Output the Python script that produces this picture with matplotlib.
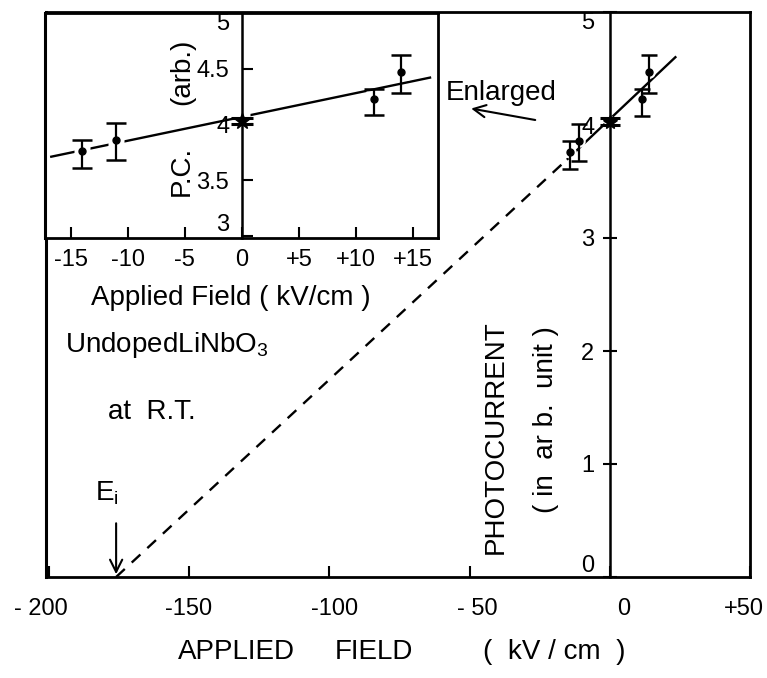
import matplotlib
matplotlib.use('Agg')
import matplotlib.pyplot as plt
from matplotlib.transforms import ScaledTranslation

plt.rcParams['font.family'] = ['Liberation Sans', 'DejaVu Sans']
plt.rcParams['axes.linewidth'] = 2.0

# ---- data ----
field = [-14.0, -11.0, 0.0, 11.6, 14.0]          # kV/cm
photocurrent = [3.76, 3.86, 4.03, 4.23, 4.47]    # arb. unit
err_low = [0.15, 0.18, 0.03, 0.15, 0.19]
err_high = [0.10, 0.15, 0.03, 0.09, 0.15]

E_i = -176.0
main_dash_x = [-176.0, -15.0]
main_dash_y = [0.0, 3.70]
main_solid_x = [-15.0, 23.4]
main_solid_y = [3.70, 4.60]

inset_fit_x = [-16.7, 16.5]
inset_fit_y = [3.71, 4.42]

main_xticks = [-200, -150, -100, -50, 0, 50]
main_xticklabels = ['- 200', '-150', '-100', '- 50', '0', '+50']
main_yticks = [0, 1, 2, 3, 4, 5]
main_yticklabels = ['0', '1', '2', '3', '4', '5']

inset_xticks = [-15, -10, -5, 0, 5, 10, 15]
inset_xticklabels = ['-15', '-10', '-5', '0', '+5', '+10', '+15']
inset_yticks = [3, 3.5, 4, 4.5, 5]
inset_yticklabels = ['3', '3.5', '4', '4.5', '5']

W, H = 767, 678
fig = plt.figure(figsize=(W / 100, H / 100), dpi=100)
FT = 17   # tick labels
FS = 20   # other texts

# ---- main axes ----
ax = fig.add_axes([46 / W, 101 / H, 704 / W, 565 / H])
ax.set_xlim(-201, 50)
ax.set_ylim(0, 5)
ax.spines['left'].set_position(('data', 0))
ax.spines['left'].set_linewidth(1.8)
ax.plot([0, 0], [0, 1], transform=ax.transAxes, color='k', lw=2.2, clip_on=False)

ax.set_xticks(main_xticks)
ax.set_xticklabels(main_xticklabels, fontsize=FT)
ax.tick_params(axis='x', direction='in', length=8, width=1.5, pad=15)
ax.set_yticks(main_yticks)
ax.set_yticklabels(main_yticklabels, fontsize=FT)
ax.tick_params(axis='y', direction='inout', length=10, width=1.5, pad=6)
ylabs = ax.get_yticklabels()
ylabs[0].set_va('bottom')
ylabs[-1].set_va('top')

ax.plot(main_dash_x, main_dash_y, color='k', lw=1.7, ls=(0, (5, 4)))
ax.plot(main_solid_x, main_solid_y, color='k', lw=1.7)
ax.plot(field, photocurrent, ls='none', marker='o', ms=9, mfc='white', mec='none', zorder=2.2)
ax.errorbar(field[:2] + field[3:], photocurrent[:2] + photocurrent[3:],
            yerr=[err_low[:2] + err_low[3:], err_high[:2] + err_high[3:]],
            fmt='o', ms=5, color='k', capsize=6, elinewidth=1.6, capthick=1.8, zorder=3)
ax.errorbar([field[2]], [photocurrent[2]], yerr=[[err_low[2]], [err_high[2]]],
            fmt='*', ms=10, color='k', capsize=7, elinewidth=2.2, capthick=2.2, zorder=3)

ax.annotate('', xy=(E_i, 0.0), xytext=(E_i, 0.5),
            arrowprops=dict(arrowstyle='->', color='k', lw=1.5, mutation_scale=22))
ax.text(-183.5, 0.74, r'E$\mathregular{_i}$', fontsize=FS, ha='left', va='center')

ax.text(-194.2, 1.99, r'UndopedLiNbO$\mathregular{_3}$', fontsize=FS, ha='left', va='baseline')
ax.text(-179, 1.46, 'at  R.T.', fontsize=FS, ha='left', va='center')

ax.text(-58.6, 4.28, 'Enlarged', fontsize=FS, ha='left', va='center')
ax.annotate('', xy=(-50.4, 4.15), xytext=(-25.6, 4.04),
            arrowprops=dict(arrowstyle='->', color='k', lw=1.5, mutation_scale=22))

ax.text(-40.8, 1.24, 'PHOTOCURRENT', fontsize=FS, rotation=90, ha='center', va='center')
ax.text(-22.7, 1.39, '( in  ar b.  unit )', fontsize=FS, rotation=90, ha='center', va='center')

ybot = 1 - 652 / H
fig.text(178 / W, ybot, 'APPLIED', fontsize=FS, ha='left', va='center')
fig.text(335 / W, ybot, 'FIELD', fontsize=FS, ha='left', va='center')
fig.text(483 / W, ybot, '(  kV / cm  )', fontsize=FS, ha='left', va='center')

# ---- inset ----
axi = fig.add_axes([45 / W, 1 - 238 / H, 393 / W, 225 / H], zorder=3)
axi.set_facecolor('white')
axi.set_xlim(-17.25, 17.2)
axi.set_ylim(2.98, 5.0)
axi.spines['left'].set_position(('data', 0))
axi.spines['left'].set_linewidth(1.8)
axi.plot([0, 0], [0, 1], transform=axi.transAxes, color='k', lw=2.2, clip_on=False)

axi.set_xticks(inset_xticks)
axi.set_xticklabels(inset_xticklabels, fontsize=FT)
axi.tick_params(axis='x', direction='in', length=8, width=1.5, pad=8)
axi.set_yticks(inset_yticks)
axi.set_yticklabels(inset_yticklabels, fontsize=FT)
axi.tick_params(axis='y', direction='in', length=8, width=1.5, pad=9)
ilabs = axi.get_yticklabels()
ilabs[0].set_va('bottom')
ilabs[-1].set_va('top')

axi.plot(inset_fit_x, inset_fit_y, color='k', lw=1.7)
axi.plot(field, photocurrent, ls='none', marker='s', ms=11, mfc='white', mec='none', zorder=2.2)
axi.errorbar(field[:2] + field[3:], photocurrent[:2] + photocurrent[3:],
             yerr=[err_low[:2] + err_low[3:], err_high[:2] + err_high[3:]],
             fmt='o', ms=5, color='k', capsize=7, elinewidth=1.6, capthick=1.8, zorder=3)
axi.errorbar([field[2]], [photocurrent[2]], yerr=[[err_low[2]], [err_high[2]]],
             fmt='*', ms=12, color='k', capsize=8, elinewidth=2.2, capthick=2.2, zorder=3)

fig.text(182 / W, 1 - 171 / H, 'P.C.', fontsize=FS, rotation=90, ha='center', va='center')
fig.text(182 / W, 1 - 72 / H, '(arb.)', fontsize=FS, rotation=90, ha='center', va='center')
fig.text(231 / W, 1 - 298 / H, 'Applied Field ( kV/cm )', fontsize=FS, ha='center', va='center')

# small horizontal nudges of the hand-lettered main x tick labels (pixels)
nudges = [-8, 0, 5, 8, 14, -6]
for lab, dx in zip(ax.get_xticklabels(), nudges):
    lab.set_transform(lab.get_transform() + ScaledTranslation(dx / 100, 0, fig.dpi_scale_trans))

fig.savefig('out.png', dpi=100)
